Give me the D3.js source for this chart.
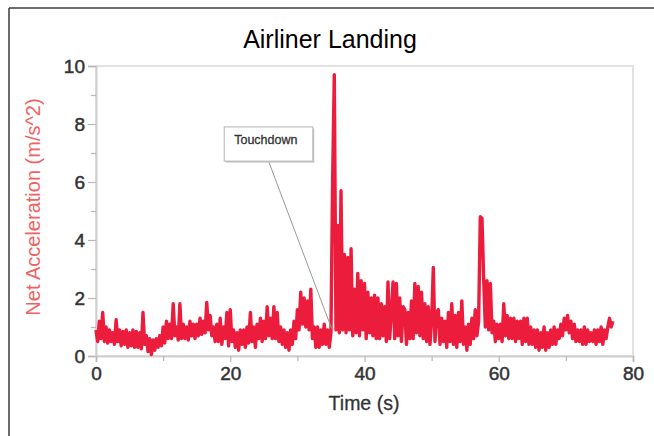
<!DOCTYPE html>
<html>
<head>
<meta charset="utf-8">
<script src="https://cdn.jsdelivr.net/npm/d3@7"></script>
<style>
  body { margin: 0; background: #fff; }
  text { font-family: "Liberation Sans", Arial, sans-serif; }
</style>
</head>
<body>
<div id="chart"></div>
<script>
// readings, 4 per second (step 0.25 s)
var step = 0.25;
var accel = [
  0.9, 0.5, 1.2, 0.6,   1.5, 0.5, 1.0, 0.45,  0.9, 0.5, 0.8, 0.4,   1.25, 0.5, 0.9, 0.35,
  0.85, 0.4, 0.9, 0.3,  0.8, 0.35, 0.9, 0.3,  0.85, 0.3, 0.8, 0.25, 1.5, 0.4, 0.7, 0.15,
  0.6, 0.05, 0.55, 0.2, 0.6, 0.3, 0.7, 0.35,  1.0, 0.45, 1.2, 0.6,  1.1, 0.6, 1.8, 0.7,
  1.0, 0.55, 1.8, 0.6,  1.1, 0.6, 1.0, 0.55,  1.2, 0.7, 1.1, 0.6,   1.1, 0.7, 1.3, 0.75,
  1.2, 0.8, 1.85, 0.9,  1.4, 0.7, 1.0, 0.5,   1.1, 0.5, 1.3, 0.4,   1.0, 0.6, 1.5, 0.35,
  1.6, 0.5, 0.9, 0.3,   0.8, 0.2, 0.9, 0.4,   0.9, 0.3, 1.0, 0.45,  1.5, 0.5, 1.0, 0.3,
  1.1, 0.6, 1.3, 0.5,   1.2, 0.6, 1.7, 0.7,   1.3, 0.6, 1.7, 0.6,   1.5, 0.5, 1.0, 0.4,
  0.9, 0.3, 0.8, 0.2,   0.9, 0.4, 1.2, 0.6,   1.6, 0.9, 2.2, 1.1,   2.0, 1.0, 1.9, 0.9,
  2.3, 0.6, 1.0, 0.3,   1.0, 0.3, 0.9, 0.4,   1.1, 0.4, 0.9, 0.3,   0.8, 6.0, 9.7, 0.9,
  4.5, 0.8, 5.7, 0.9,   3.5, 0.8, 3.4, 0.9,   3.7, 0.7, 2.3, 0.8,   2.85, 0.7, 2.6, 0.9,
  2.5, 0.6, 2.2, 0.8,   2.0, 0.7, 2.1, 0.6,   2.0, 0.6, 1.8, 0.7,   1.7, 0.5, 2.55, 0.6,
  1.5, 2.55, 0.6, 2.5,  0.7, 2.0, 0.5, 1.7,   1.6, 0.4, 1.5, 0.6,   1.9, 0.6, 2.5, 0.8,
  2.4, 0.7, 2.2, 0.6,   1.8, 0.5, 1.7, 0.4,   1.2, 3.05, 0.5, 1.5,  1.6, 0.4, 1.3, 0.5,
  1.2, 0.3, 1.5, 0.5,   1.8, 0.4, 1.4, 0.3,   1.5, 0.5, 1.9, 0.4,   1.0, 0.2, 1.1, 0.4,
  1.3, 0.6, 1.6, 0.7,   1.2, 4.8, 4.75, 2.7,  1.0, 2.6, 0.9, 2.5,   0.8, 1.2, 0.5, 1.1,
  0.6, 1.1, 0.5, 1.8,   0.7, 1.4, 0.6, 1.3,   0.6, 1.3, 0.5, 1.2,   0.6, 1.2, 0.4, 1.3,
  0.5, 1.3, 0.4, 1.0,   0.4, 0.9, 0.3, 0.9,   0.2, 0.8, 0.3, 1.0,   0.2, 0.8, 0.3, 0.9,
  0.4, 1.0, 0.4, 0.9,   0.6, 1.1, 0.7, 1.3,   0.9, 1.4, 0.8, 1.2,   0.6, 1.1, 0.5, 0.9,
  0.5, 0.9, 0.4, 1.0,   0.4, 0.9, 0.5, 0.8,   0.5, 0.9, 0.4, 0.9,   0.5, 1.0, 0.4, 0.9,
  0.6, 1.0, 1.3, 1.0,   1.2
];
var xTicks = [0, 20, 40, 60, 80];
var yTicks = [0, 2, 4, 6, 8, 10];
// callout: [t, a] of box corners and of the pointed spot
var noteText = "Touchdown";
var noteBox = [19.1, 7.9, 32.3, 6.72];
var notePoint = [35.1, 0.95];

var width = 654,
    height = 436,
    pLeft = 96, pRight = 633, pTop = 66, pBottom = 356;

var svg = d3.select("#chart")
  .append("svg")
    .attr("width", width)
    .attr("height", height);

// outer frame (top and left edges only show)
svg.append("line").attr("x1", 9).attr("y1", 8).attr("x2", width).attr("y2", 8)
  .attr("stroke", "#3a3a3a").attr("stroke-width", 1.5);
svg.append("line").attr("x1", 9).attr("y1", 8).attr("x2", 9).attr("y2", height)
  .attr("stroke", "#3a3a3a").attr("stroke-width", 1.5);

var x = d3.scaleLinear().domain([0, 80]).range([pLeft, pRight]);
var y = d3.scaleLinear().domain([0, 10]).range([pBottom, pTop]);

// plot box
svg.append("rect")
  .attr("x", pLeft).attr("y", pTop)
  .attr("width", pRight - pLeft).attr("height", pBottom - pTop)
  .attr("fill", "none").attr("stroke", "#e2e2e2").attr("stroke-width", 2);

// y axis
svg.append("g")
  .attr("transform", "translate(" + pLeft + ",0)")
  .call(d3.axisLeft(y).tickValues(yTicks).tickSize(8).tickPadding(3).tickFormat(d3.format("d")));
svg.append("g")
  .attr("transform", "translate(" + pLeft + ",0)")
  .call(d3.axisLeft(y).tickValues([1, 3, 5, 7, 9]).tickSize(5).tickFormat(""))
  .select(".domain").remove();

// x axis
svg.append("g")
  .attr("transform", "translate(0," + pBottom + ")")
  .call(d3.axisBottom(x).tickValues(xTicks).tickSize(6).tickPadding(5).tickFormat(d3.format("d")));
svg.append("g")
  .attr("transform", "translate(0," + pBottom + ")")
  .call(d3.axisBottom(x).tickValues([10, 30, 50, 70]).tickSize(5).tickFormat(""))
  .select(".domain").remove();

svg.selectAll(".domain").attr("stroke", "#cfcfcf").attr("stroke-width", 2);
svg.selectAll(".tick line").attr("stroke", "#b8b8b8").attr("stroke-width", 1.2);
svg.selectAll(".tick text")
  .style("font-size", "19px")
  .attr("fill", "#333")
  .attr("stroke", "#333").attr("stroke-width", 0.5);

// data line
var line = d3.line()
  .x(function(d, i) { return x(i * step); })
  .y(function(d) { return y(d); });

svg.append("path")
  .datum(accel)
  .attr("d", line)
  .attr("fill", "none")
  .attr("stroke", "#ec1c3c")
  .attr("stroke-width", 3.4)
  .attr("stroke-linejoin", "round");

// touchdown callout
var bx = x(noteBox[0]), by = y(noteBox[1]),
    bw = x(noteBox[2]) - x(noteBox[0]), bh = y(noteBox[3]) - y(noteBox[1]);
svg.append("line")
  .attr("x1", bx + bw / 2).attr("y1", by + bh)
  .attr("x2", x(notePoint[0])).attr("y2", y(notePoint[1]))
  .attr("stroke", "#999").attr("stroke-width", 1);
svg.append("rect")
  .attr("x", bx + 1.5).attr("y", by + 1.5).attr("width", bw).attr("height", bh)
  .attr("fill", "#c8c8c8");
svg.append("rect")
  .attr("x", bx).attr("y", by).attr("width", bw).attr("height", bh)
  .attr("fill", "#fff").attr("stroke", "#b5b5b5").attr("stroke-width", 1);
svg.append("text")
  .attr("x", bx + 10).attr("y", by + 17)
  .text(noteText)
  .style("font-size", "12.5px")
  .attr("fill", "#333").attr("stroke", "#333").attr("stroke-width", 0.3);

// title and axis labels
svg.append("text")
  .attr("x", 330).attr("y", 48)
  .attr("text-anchor", "middle")
  .style("font-size", "25px")
  .attr("fill", "#000")
  .text("Airliner Landing");

svg.append("text")
  .attr("x", 364).attr("y", 410)
  .attr("text-anchor", "middle")
  .style("font-size", "19.5px")
  .attr("fill", "#333").attr("stroke", "#333").attr("stroke-width", 0.3)
  .text("Time (s)");

svg.append("text")
  .attr("transform", "translate(40,207) rotate(-90)")
  .attr("text-anchor", "middle")
  .style("font-size", "20px")
  .attr("fill", "#f06262")
  .text("Net Acceleration (m/s^2)");
</script>
</body>
</html>
